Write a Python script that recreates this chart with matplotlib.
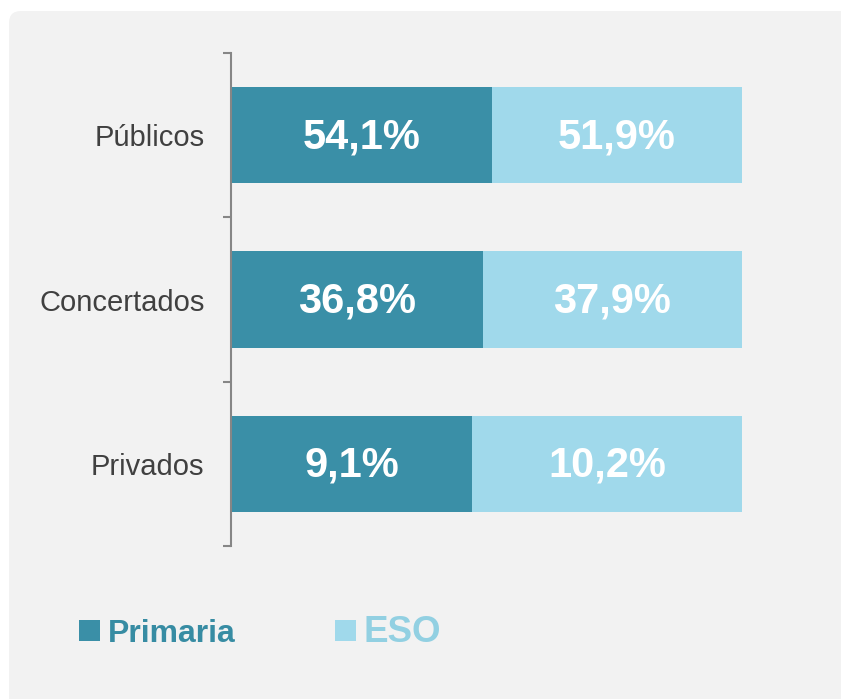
import matplotlib.pyplot as plt
from matplotlib.patches import FancyBboxPatch
from matplotlib.transforms import IdentityTransform

plt.rcParams['font.family'] = ['Liberation Sans', 'DejaVu Sans']

categorias = ["Públicos", "Concertados", "Privados"]
primaria = [54.1, 36.8, 9.1]
eso = [51.9, 37.9, 10.2]
series = ["Primaria", "ESO"]

c_prim = "#3a8fa7"
c_eso = "#a0d9eb"

fig = plt.figure(figsize=(8.41, 6.99), dpi=100)
fig.patch.set_facecolor("white")

# panel gris de fondo con esquina redondeada (en pixeles)
W, H = 841, 699
panel = FancyBboxPatch((9, -50), 900, H - 11 + 50, boxstyle="round,pad=0,rounding_size=12",
                       transform=IdentityTransform(), facecolor="#f2f2f2", edgecolor="none", zorder=-5)
fig.patches.append(panel)

ax = fig.add_axes([231 / W, 1 - 546 / H, (742 - 231) / W, (546 - 53) / H])
ax.patch.set_alpha(0)

# 100% apilado
tot = [p + e for p, e in zip(primaria, eso)]
fp = [p / t for p, t in zip(primaria, tot)]
fe = [e / t for e, t in zip(eso, tot)]
ypos = list(range(len(categorias)))

b1 = ax.barh(ypos, fp, height=0.585, color=c_prim, label=series[0])
b2 = ax.barh(ypos, fe, left=fp, height=0.585, color=c_eso, label=series[1])

for i in ypos:
    ax.text(fp[i] / 2, i + 0.012, f"{primaria[i]:.1f}%".replace(".", ","), ha="center", va="center",
            color="white", fontsize=30, fontweight="bold")
    ax.text(fp[i] + fe[i] / 2, i + 0.012, f"{eso[i]:.1f}%".replace(".", ","), ha="center", va="center",
            color="white", fontsize=30, fontweight="bold")

ax.set_xlim(0, 1)
ax.set_ylim(len(categorias) - 0.5, -0.5)
ax.set_xticks([])
for s in ["top", "right", "bottom"]:
    ax.spines[s].set_visible(False)
ax.spines["left"].set_color("#868686")
ax.spines["left"].set_linewidth(1.5)

ax.set_yticks([i - 0.5 for i in range(len(categorias) + 1)])
ax.set_yticklabels([])
ax.tick_params(axis="y", which="major", length=6, width=1.5, color="#868686")
ax.set_yticks(ypos, minor=True)
ax.set_yticklabels(categorias, minor=True)
ax.tick_params(axis="y", which="minor", length=0, pad=19, labelsize=21, labelcolor="#404040")

leg = fig.legend(handles=[b1, b2], loc="center left", bbox_to_anchor=(79 / W, 1 - 632 / H),
                 ncol=2, frameon=False, fontsize=23, handlelength=0.66, handleheight=0.66,
                 handletextpad=0.25, columnspacing=3.1, borderpad=0, borderaxespad=0)
t1, t2 = leg.get_texts()
t1.set_color("#378ca3")
t1.set_fontweight("bold")
t2.set_color("#92d0e2")
t2.set_fontweight("bold")
t2.set_fontsize(26.5)

fig.savefig("out.png", dpi=100, facecolor=fig.get_facecolor())
